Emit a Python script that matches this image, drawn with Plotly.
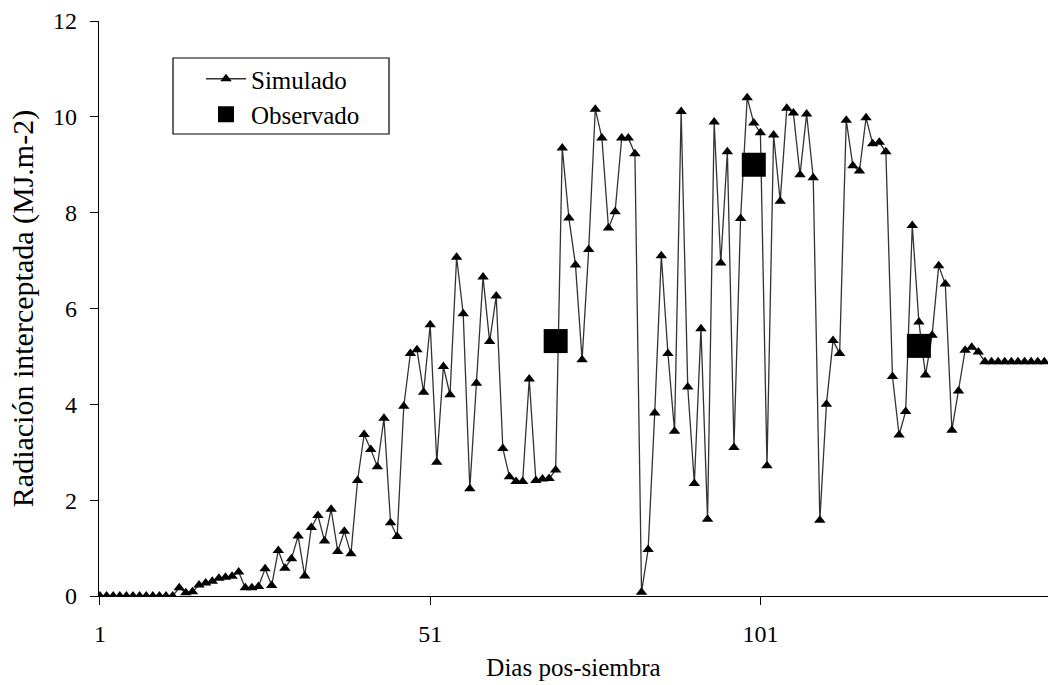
import plotly.graph_objects as go

dias = list(range(1, 145))
simulado = [
    0, 0, 0, 0, 0, 0, 0, 0, 0, 0, 0, 0,
    0.17, 0.07, 0.09, 0.23, 0.27, 0.31, 0.37, 0.39, 0.41, 0.50,
    0.17, 0.17, 0.20, 0.57, 0.22, 0.95, 0.58, 0.78, 1.25, 0.42,
    1.43, 1.68, 1.15, 1.81, 0.93, 1.35, 0.88, 2.41, 3.37, 3.06,
    2.70, 3.71, 1.53, 1.24, 3.96, 5.06, 5.14, 4.25, 5.66, 2.79,
    4.79, 4.20, 7.07, 5.89, 2.24, 4.44, 6.66, 5.31, 6.26, 3.08,
    2.49, 2.39, 2.39, 4.53, 2.41, 2.44, 2.45, 2.63, 9.35, 7.89,
    6.91, 4.93, 7.23, 10.16, 9.56, 7.68, 8.02, 9.56, 9.56, 9.23,
    0.08, 0.97, 3.82, 7.10, 5.06, 3.44, 10.11, 4.36, 2.35, 5.58,
    1.60, 9.89, 6.95, 9.27, 3.10, 7.88, 10.40, 9.87, 9.67, 2.72,
    9.62, 8.24, 10.18, 10.08, 8.79, 10.06, 8.73, 1.58, 4.00, 5.33,
    5.06, 9.93, 8.98, 8.87, 9.98, 9.44, 9.47, 9.27, 4.58, 3.36,
    3.85, 7.73, 5.72, 4.61, 5.44, 6.89, 6.51, 3.46, 4.28, 5.13,
    5.19, 5.09,
    4.89, 4.89, 4.89, 4.89, 4.89, 4.89, 4.89, 4.89, 4.89, 4.89,
]
dias_obs = [70, 100, 125]
observado = [5.32, 9.00, 5.22]

x_ticks = [1, 51, 101]
x_ticktext = ["1", "51", "101"]
y_ticks = [0, 2, 4, 6, 8, 10, 12]

FONT = "Liberation Serif"
TICK_SIZE = 24
TITLE_SIZE = 25
YTITLE_SIZE = 30

fig = go.Figure()
fig.add_trace(go.Scatter(
    x=dias, y=simulado, mode="lines+markers", name="Simulado",
    line=dict(color="#333333", width=1.3),
    marker=dict(symbol="triangle-up", size=10, color="black"),
))
fig.add_trace(go.Scatter(
    x=dias_obs, y=observado, mode="markers", name="Observado",
    marker=dict(symbol="square", size=24, color="black"),
))

# legend frame (drawn as a shape so its size matches the original box)
fig.add_shape(type="rect", xref="paper", yref="paper",
              x0=(173 - 99) / 949, x1=(389 - 99) / 949,
              y0=(596 - 134) / 575, y1=(596 - 58) / 575,
              line=dict(color="black", width=1.2), fillcolor="white", layer="below")

fig.update_layout(
    width=1048, height=685,
    margin=dict(l=99, r=0, t=21, b=89, autoexpand=False),
    paper_bgcolor="white", plot_bgcolor="white",
    font=dict(family=FONT, size=TICK_SIZE, color="black"),
    showlegend=True,
    legend=dict(
        x=(201 - 99) / 949, y=(596 - 56) / 575, xanchor="left", yanchor="top",
        borderwidth=0, bgcolor="rgba(0,0,0,0)",
        font=dict(family=FONT, size=TITLE_SIZE, color="black"),
        itemwidth=40, tracegroupgap=0,
    ),
    xaxis=dict(
        range=[0.85, 144.55], automargin=False,
        tickvals=x_ticks, ticktext=x_ticktext,
        ticks="outside", ticklen=8, tickcolor="black", tickwidth=1.2,
        ticklabelstandoff=8,
        showline=True, linecolor="black", linewidth=1.3,
        showgrid=False, zeroline=False,
        tickfont=dict(family=FONT, size=TICK_SIZE),
        title=dict(text="Dias pos-siembra", font=dict(family=FONT, size=TITLE_SIZE), standoff=12),
    ),
    yaxis=dict(
        range=[0, 12], automargin=False,
        tickvals=y_ticks,
        ticks="outside", ticklen=8, tickcolor="black", tickwidth=1.2,
        ticklabelstandoff=8,
        showline=True, linecolor="black", linewidth=1.3,
        showgrid=False, zeroline=False,
        tickfont=dict(family=FONT, size=TICK_SIZE),
        title=dict(text="Radiación interceptada (MJ.m-2)", font=dict(family=FONT, size=YTITLE_SIZE), standoff=10),
    ),
)

fig.write_html("out.html", config={"displayModeBar": False},
               post_script="document.body.style.margin='0px';")
